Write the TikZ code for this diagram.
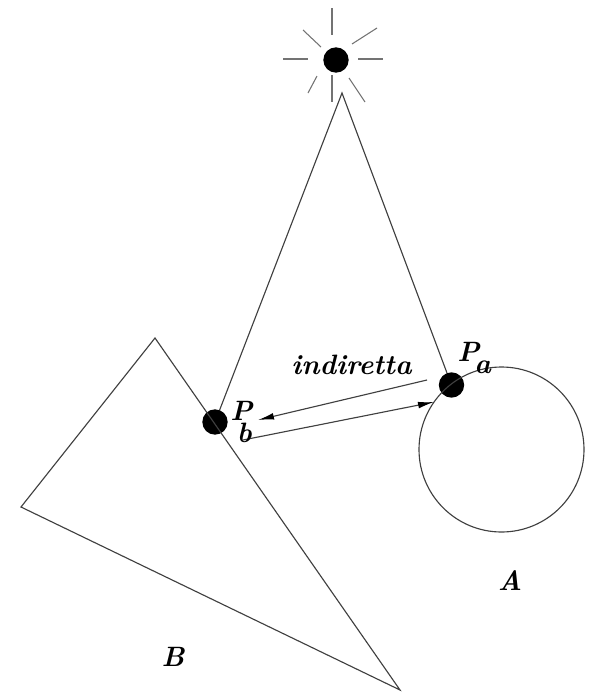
\documentclass[tikz,border=0pt]{standalone}
\usepackage{amsmath}
\usepackage{xcolor}
\usetikzlibrary{arrows.meta,positioning,calc}

\begin{document}
\begin{tikzpicture}[x=0.75pt,y=-0.75pt,>={Latex[length=12pt,width=5pt,black]}]

\tikzstyle{dot}=[
  circle,
  fill=black,
  inner sep=0pt,
  minimum size=19pt
]
\tikzstyle{thinline}=[
  line width=0.85pt,
  black!75
]
\tikzstyle{ray}=[
  line width=0.8pt,
  black!55
]
\tikzstyle{lab}=[
  inner sep=0pt,
  font=\fontsize{21}{24}\selectfont\bfseries\itshape
]

\useasboundingbox (0,0) rectangle (590,693);

% Points
\node[dot] (sun) at (336,60) {};
\node[dot] (pa) at (451.5,385) {};
\node[dot] (pb) at (215,422) {};
\coordinate (apex) at (342,93);
\coordinate (b1) at (155,338);
\coordinate (b2) at (21,507);
\coordinate (b3) at (400,690);
\coordinate (ca) at (501.5,449.5);

% Rays
\foreach \xa/\ya/\xb/\yb in {332/8/332/35, 332/75/332/102, 283/59/308/59, 358/59/383/59,
  303/30/321/47, 352/44/377/28, 308/93/317/76, 349/78/365/102}
  \draw[ray] (\xa,\ya) -- (\xb,\yb);

% Triangle of light
\draw[thinline] (pb) -- (apex) -- (pa);

% Objects
\draw[thinline] (b1) -- (b2) -- (b3) -- cycle;
\draw[thinline] (ca) circle[radius=82.5];

% Indirect light
\coordinate (ia) at (427,380);
\coordinate (ib) at (258,420);
\coordinate (ic) at (243,440);
\coordinate (id) at (434,402);
\draw[->, thinline] (ia) -- (ib);
\draw[->, thinline] (ic) -- (id);

% Labels
\node[lab,xshift=-1.5pt] (ind) at (353.5,365) {indiretta};
\node[lab,anchor=west] (plabela) at (457,358) {P\kern-0.18em\raisebox{-0.42em}{a}};
\node[lab,anchor=west] (plabelb) at (230,422) {P\kern-0.55em\raisebox{-0.8em}{b}};
\node[lab] (nameA) at (510,581) {A};
\node[lab] (nameB) at (173,657) {B};

\end{tikzpicture}
\end{document}
